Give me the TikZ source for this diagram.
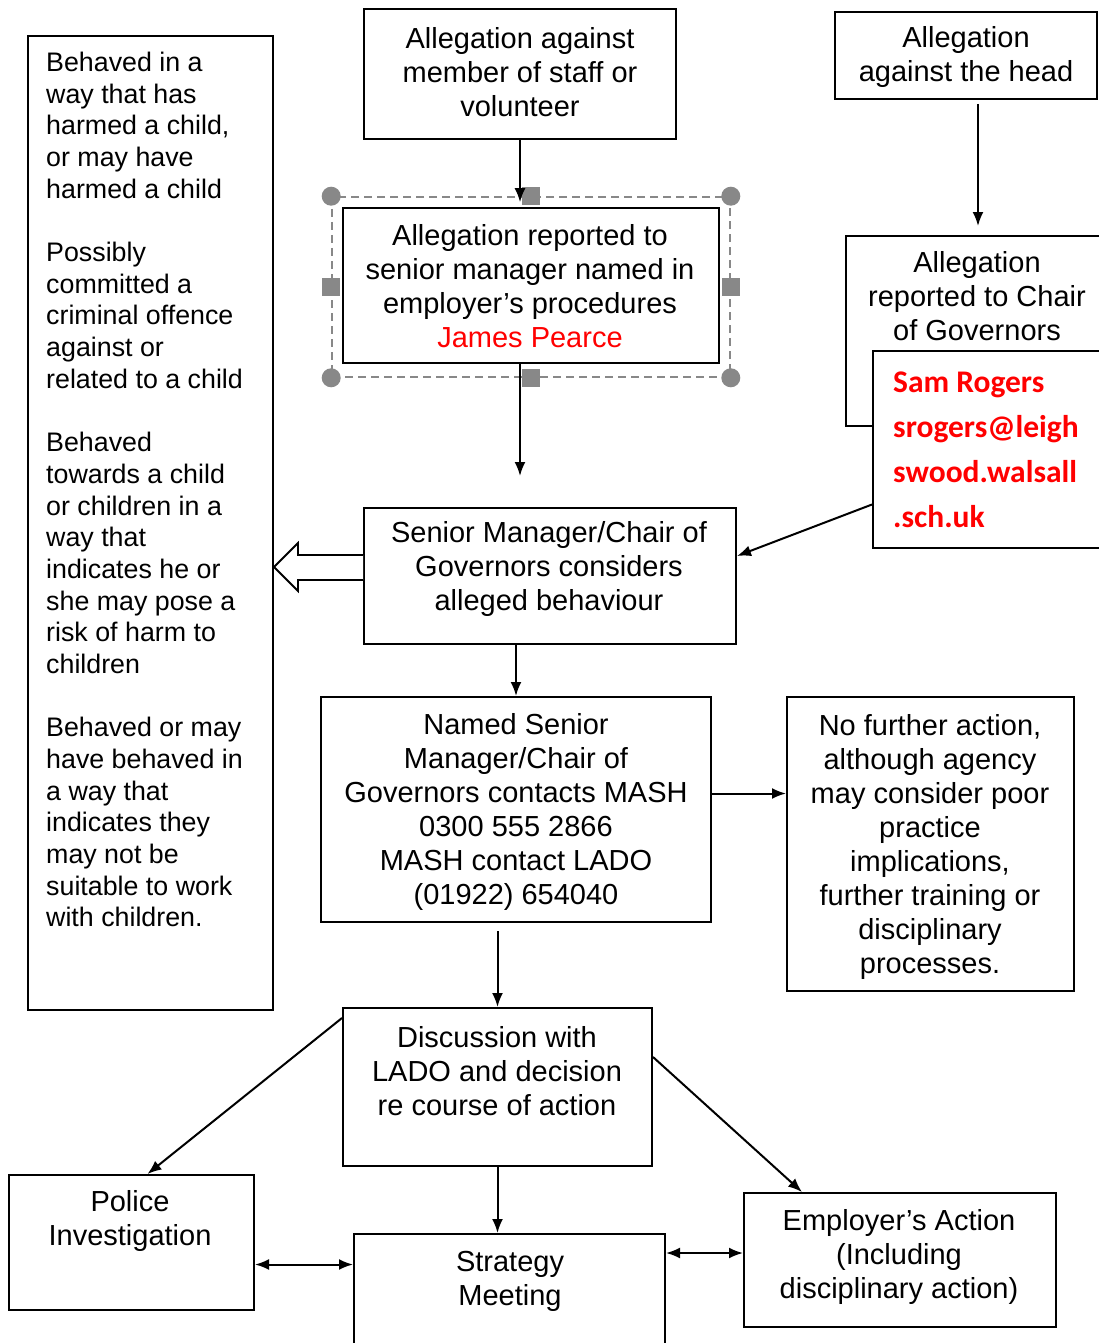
\documentclass[tikz,border=0pt]{standalone}
\usepackage{fontspec}
\setmainfont{Liberation Sans}
\newfontfamily\namefont{Carlito}
\usetikzlibrary{arrows.meta}

\definecolor{handlegray}{RGB}{136,136,136}

\tikzset{
  box/.style={draw, line width=2pt, fill=white, inner sep=0pt},
  txt/.style={align=center, inner sep=0pt, font=\fontsize{29}{34}\selectfont},
  sidetxt/.style={align=left, inner sep=0pt, font=\fontsize{26.8}{31.67}\selectfont},
  redtxt/.style={align=left, inner sep=0pt, text=red, font=\namefont\bfseries\fontsize{31.5}{45}\selectfont},
  arr/.style={line width=2pt, -{Latex[length=14pt,width=11pt]}},
  twoarr/.style={line width=2pt, {Latex[length=14pt,width=11pt]}-{Latex[length=14pt,width=11pt]}},
  selframe/.style={draw=handlegray, dash pattern=on 8pt off 5pt, line width=1.6pt, inner sep=0pt},
  handle/.style={fill=handlegray}
}

\begin{document}
\begin{tikzpicture}[x=1pt,y=-1pt]
\useasboundingbox (0,0) rectangle (1098,1343);

% selection frame round the reported box
\node[selframe, minimum width=398pt, minimum height=180pt] (sel) at (531,287) {};
\foreach \c in {north west,north east,south west,south east}
  \fill[handle] (sel.\c) circle (9.5pt);
\foreach \c in {north,south,west,east}
  \fill[handle] ([shift={(-9pt,-9pt)}]sel.\c) rectangle +(18pt,18pt);

% boxes
\node[box, minimum width=245pt, minimum height=974pt] (criteria) at (150.5,523) {};
\node[box, minimum width=312pt, minimum height=130pt] (staff) at (520,74) {};
\node[box, minimum width=262pt, minimum height=87pt] (head) at (966,55.5) {};
\node[box, minimum width=376pt, minimum height=155pt] (reported) at (531,285.5) {};
\node[box, minimum width=264pt, minimum height=190pt] (chair) at (978,331) {};
\node[box, minimum width=260pt, minimum height=197pt] (contact) at (1003,449.5) {};
\node[box, minimum width=372pt, minimum height=136pt] (considers) at (550,576) {};
\node[box, minimum width=390pt, minimum height=225pt] (mash) at (516,809.5) {};
\node[box, minimum width=287pt, minimum height=294pt] (nfa) at (930.5,844) {};
\node[box, minimum width=309pt, minimum height=158pt] (lado) at (497.5,1087) {};
\node[box, minimum width=245pt, minimum height=135pt] (police) at (131.5,1242.5) {};
\node[box, minimum width=311pt, minimum height=160pt] (strategy) at (509.5,1314) {};
\node[box, minimum width=312pt, minimum height=134pt] (employer) at (900,1260) {};

% texts
\node[sidetxt, anchor=north west] (criteria-t) at (46,52) {Behaved in a\\ way that has\\ harmed a child,\\ or may have\\ harmed a child\\[31.67pt]
  Possibly\\ committed a\\ criminal offence\\ against or\\ related to a child\\[31.67pt]
  Behaved\\ towards a child\\ or children in a\\ way that\\ indicates he or\\ she may pose a\\ risk of harm to\\ children\\[31.67pt]
  Behaved or may\\ have behaved in\\ a way that\\ indicates they\\ may not be\\ suitable to work\\ with children.};
\node[txt] (staff-t) at (520,72) {Allegation against\\ member of staff or\\ volunteer};
\node[txt] (head-t) at (966,57.5) {Allegation\\ against the head};
\node[txt] (reported-t) at (530,286) {Allegation reported to\\ senior manager named in\\ employer's procedures\\ \textcolor{red}{James Pearce}};
\node[txt] (chair-t) at (977,296) {Allegation\\ reported to Chair\\ of Governors};
\node[redtxt, anchor=west] (contact-t) at (893,449.5) {Sam Rogers\\ srogers@leigh\\ swood.walsall\\ .sch.uk};
\node[txt] (considers-t) at (549,569) {Senior Manager/Chair of\\ Governors considers\\ alleged behaviour};
\node[txt] (mash-t) at (516,811.5) {Named Senior\\ Manager/Chair of\\ Governors contacts MASH\\ 0300 555 2866\\ MASH contact LADO\\ (01922) 654040};
\node[txt] (nfa-t) at (930,846.5) {No further action,\\ although agency\\ may consider poor\\ practice\\ implications,\\ further training or\\ disciplinary\\ processes.};
\node[txt] (lado-t) at (497,1071) {Discussion with\\ LADO and decision\\ re course of action};
\node[txt] (police-t) at (130,1221) {Police\\ Investigation};
\node[txt] (strategy-t) at (510,1281.5) {Strategy\\ Meeting};
\node[txt] (employer-t) at (899,1257) {Employer's Action\\ (Including\\ disciplinary action)};

% connectors
\coordinate (gap) at (520,476);
\draw[arr] (staff.south) -- ([yshift=-6pt]staff.south |- sel.north);
\draw[arr] ([yshift=-4pt]head.south -| chair.north) -- ([yshift=9pt]chair.north);
\draw[arr] (gap |- reported.south) -- (gap);
\draw[arr] ([yshift=-55pt]contact.west) -- ([yshift=20pt]considers.east);
\draw[arr] (mash.north |- considers.south) -- (mash.north);
\draw[arr] ([yshift=16pt]mash.east) -- ([yshift=16pt]mash.east -| nfa.west);
\draw[arr] ([yshift=-8pt]lado.north |- mash.south) -- (lado.north);
\draw[arr] ([yshift=-11pt]lado.north west) -- ([xshift=16pt]police.north);
\draw[arr] ([yshift=30pt]lado.east) -- ([xshift=-98pt]employer.north);
\draw[arr] (lado.south) -- (lado.south |- strategy.north);
\draw[twoarr] ([yshift=-22pt]police.east) -- ([yshift=-22pt]police.east -| strategy.west);
\draw[twoarr] ([yshift=7pt]employer.west -| strategy.east) -- ([yshift=7pt]employer.west);

% hollow arrow into the criteria box
\draw[line width=1.8pt, fill=white] (considers.west |- 0,555) -- (298,555) -- (298,543)
  -- (criteria.east |- 0,567) -- (298,591) -- (298,580) -- (considers.west |- 0,580);
\end{tikzpicture}
\end{document}
